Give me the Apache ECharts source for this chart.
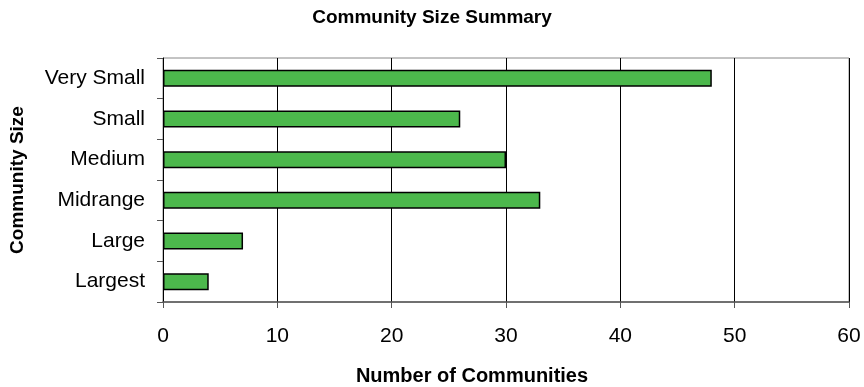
<!DOCTYPE html>
<html><head><meta charset="utf-8">
<script src="https://cdn.jsdelivr.net/npm/echarts@6/dist/echarts.min.js"></script>
<style>html,body{margin:0;padding:0;background:#fff}#c{width:864px;height:387px}</style>
</head><body><div id="c"></div>
<script>
var categories = ['Very Small', 'Small', 'Medium', 'Midrange', 'Large', 'Largest'];
var communities = [48, 26, 30, 33, 7, 4];
var xTicks = [0, 10, 20, 30, 40, 50, 60];

var chart = echarts.init(document.getElementById('c'));
var font = 'Liberation Sans, Arial, sans-serif';
chart.setOption({
  animation: false,
  title: {
    text: 'Community Size Summary', left: 'center', top: 3,
    textStyle: { fontFamily: font, fontSize: 19, fontWeight: 'bold', color: '#000' }
  },
  grid: { left: 163, right: 15, top: 58, bottom: 85, containLabel: false,
          outerBoundsMode: 'none',
          show: true, borderColor: '#888', borderWidth: 1 },
  xAxis: {
    type: 'value', min: xTicks[0], max: xTicks[xTicks.length - 1], interval: 10,
    name: 'Number of Communities', nameLocation: 'middle', nameGap: 64,
    nameTextStyle: { fontFamily: font, fontSize: 20, fontWeight: 'bold', color: '#000',
                     padding: [0, 68, 0, 0] },
    axisLine: { show: true, lineStyle: { color: '#555', width: 1.5 } },
    axisTick: { show: true, length: 6, lineStyle: { color: '#555' } },
    axisLabel: { fontFamily: font, fontSize: 21, color: '#000', margin: 24 },
    splitLine: { show: true, lineStyle: { color: '#000', width: 1 } }
  },
  yAxis: {
    type: 'category', data: categories, inverse: true,
    name: 'Community Size', nameLocation: 'middle', nameGap: 136, nameRotate: 90,
    nameTextStyle: { fontFamily: font, fontSize: 19, fontWeight: 'bold', color: '#000' },
    axisLine: { show: true, lineStyle: { color: '#000', width: 1 } },
    axisTick: { show: true, length: 6, alignWithLabel: false, lineStyle: { color: '#555' } },
    axisLabel: { fontFamily: font, fontSize: 21, color: '#000', margin: 18 },
    splitLine: { show: false }
  },
  series: [{
    type: 'bar', data: communities, barWidth: 17,
    itemStyle: { color: '#4cb84c', borderColor: '#000', borderWidth: 1.5 }
  }]
});
</script></body></html>
